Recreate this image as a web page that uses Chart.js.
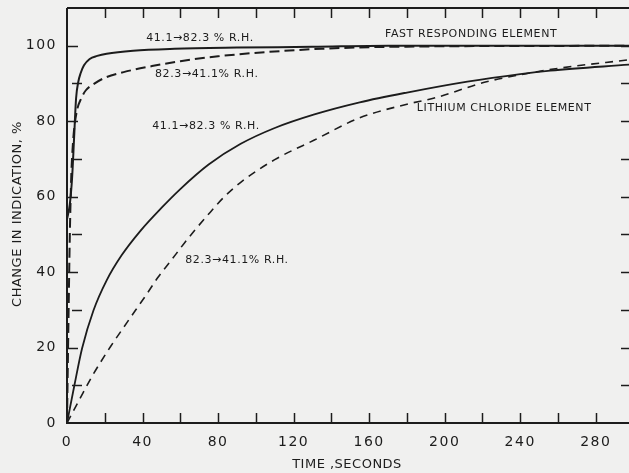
<!doctype html>
<html>
<head>
<meta charset="utf-8" />
<title>Change in indication vs time</title>
<script src="https://cdn.jsdelivr.net/npm/chart.js@4.4.1/dist/chart.umd.min.js"></script>
<style>
  html, body { margin: 0; padding: 0; background: #f0f0ef; }
  #wrap { width: 629px; height: 473px; position: relative; }
</style>
</head>
<body>
<div id="wrap"><canvas id="chart"></canvas></div>
<script>
// fast responding element, 41.1 -> 82.3 % R.H. (solid)
const fastRiseT = [0, 1.5, 2.7, 3.7, 4.8, 6, 7.2, 9, 12, 16, 21, 35, 57, 90, 130, 170, 298];
const fastRiseV = [54, 58, 65, 75, 86, 90.5, 92.7, 94.8, 96.5, 97.3, 97.9, 98.7, 99.2, 99.5, 99.7, 100, 100];
// fast responding element, 82.3 -> 41.1 % R.H. (dashed)
const fastFallT = [0, 0.8, 1.5, 2.3, 3, 3.8, 5.5, 7.5, 10, 14, 20, 30, 45, 60, 80, 105, 135, 170, 298];
const fastFallV = [0, 28, 50, 66, 73, 78, 83.3, 86, 88.2, 89.8, 91.5, 93, 94.6, 95.9, 97.2, 98.3, 99.2, 99.7, 100];
// lithium chloride element, 41.1 -> 82.3 % R.H. (solid)
const liRiseT = [0, 4, 8, 14, 21, 29, 39, 50, 60, 75, 92, 110, 131, 155, 180, 212, 240, 256, 298];
const liRiseV = [0, 10.2, 19.8, 29.8, 37.8, 44.5, 51, 57, 62, 68.5, 74, 78.2, 81.8, 85, 87.6, 90.5, 92.5, 93.4, 95];
// lithium chloride element, 82.3 -> 41.1 % R.H. (dashed)
const liFallT = [0, 7, 14, 23, 32, 42, 48, 55, 62, 67, 74, 83, 92, 110, 131, 155, 180, 195, 221, 240, 260, 298];
const liFallV = [0, 6.6, 13, 20.2, 26.8, 34, 38.5, 43, 47.6, 50.7, 54.8, 59.8, 63.8, 69.8, 75, 80.9, 84.5, 86.2, 90.3, 92.3, 94, 96.3];

const xTicks = [0, 40, 80, 120, 160, 200, 240, 280];
const yTicks = [0, 20, 40, 60, 80, 100];

// text placed on the plot, given in data units (t, value)
const notes = [
  { text: "41.1\u219282.3 % R.H.", t: 70.4, v: 102 },
  { text: "82.3\u219241.1% R.H.", t: 74, v: 92.5 },
  { text: "41.1\u219282.3 % R.H.", t: 73.6, v: 78.7 },
  { text: "82.3\u219241.1% R.H.", t: 90, v: 43.2 },
  { text: "FAST RESPONDING ELEMENT", t: 214, v: 103 },
  { text: "LITHIUM CHLORIDE ELEMENT", t: 231.5, v: 83.5 },
];

const ink = "#1c1c1c";
const pts = (ts, vs) => ts.map((t, i) => ({ x: t, y: vs[i] }));

function series(ts, vs, dash, width) {
  return {
    data: pts(ts, vs),
    showLine: true,
    pointRadius: 0,
    borderColor: ink,
    borderWidth: width,
    borderDash: dash,
    cubicInterpolationMode: "monotone",
    clip: false,
  };
}

const frame = {
  id: "frame",
  afterDatasetsDraw(chart) {
    const { ctx, chartArea: a, scales: { x, y } } = chart;
    ctx.save();
    ctx.strokeStyle = ink;
    ctx.fillStyle = ink;
    ctx.lineWidth = 2;
    ctx.beginPath();
    ctx.moveTo(a.left, a.top);
    ctx.lineTo(a.left, a.bottom);
    ctx.lineTo(a.right, a.bottom);
    ctx.moveTo(a.left, a.top);
    ctx.lineTo(a.right, a.top);
    ctx.stroke();

    ctx.lineWidth = 1.5;
    ctx.beginPath();
    for (let t = 20; t < x.max; t += 20) {
      const px = Math.round(x.getPixelForValue(t)) + 0.5;
      ctx.moveTo(px, a.bottom);
      ctx.lineTo(px, a.bottom - 10);
      ctx.moveTo(px, a.top);
      ctx.lineTo(px, a.top + 10);
    }
    for (let v = 10; v <= 100; v += 10) {
      const py = Math.round(y.getPixelForValue(v)) + 0.5;
      const major = v % 20 === 0;
      ctx.moveTo(a.left + (major ? 0 : 5), py);
      ctx.lineTo(a.left + (major ? 11 : 15), py);
      ctx.moveTo(a.right, py);
      ctx.lineTo(a.right - 8, py);
    }
    ctx.stroke();

    ctx.font = "14px 'DejaVu Sans'";
    ctx.letterSpacing = "1.5px";
    ctx.textBaseline = "middle";
    ctx.textAlign = "right";
    yTicks.forEach((v) => ctx.fillText(String(v), a.left - 10, y.getPixelForValue(v)));
    ctx.textAlign = "center";
    xTicks.forEach((t) => ctx.fillText(String(t), x.getPixelForValue(t), a.bottom + 19));

    ctx.font = "13px 'DejaVu Sans'";
    ctx.letterSpacing = "0.5px";
    ctx.fillText("TIME ,SECONDS", 347, a.bottom + 42);
    ctx.save();
    ctx.translate(18, 214);
    ctx.rotate(-Math.PI / 2);
    ctx.fillText("CHANGE IN INDICATION, %", 0, 0);
    ctx.restore();

    ctx.font = "11px 'DejaVu Sans'";
    ctx.letterSpacing = "0.6px";
    notes.forEach((n) => ctx.fillText(n.text, x.getPixelForValue(n.t), y.getPixelForValue(n.v)));
    ctx.restore();
  },
};

new Chart(document.getElementById("chart"), {
  type: "scatter",
  data: {
    datasets: [
      series(fastRiseT, fastRiseV, [], 2),
      series(fastFallT, fastFallV, [10, 5], 2),
      series(liRiseT, liRiseV, [], 1.8),
      series(liFallT, liFallV, [8, 6], 1.6),
    ],
  },
  options: {
    responsive: true,
    maintainAspectRatio: false,
    animation: false,
    layout: { padding: { left: 67, top: 8, right: 0, bottom: 50 } },
    plugins: { legend: { display: false }, tooltip: { enabled: false } },
    scales: {
      x: { type: "linear", min: 0, max: 297.6, display: false },
      y: { type: "linear", min: 0, max: 110, display: false },
    },
  },
  plugins: [frame],
});
</script>
</body>
</html>
